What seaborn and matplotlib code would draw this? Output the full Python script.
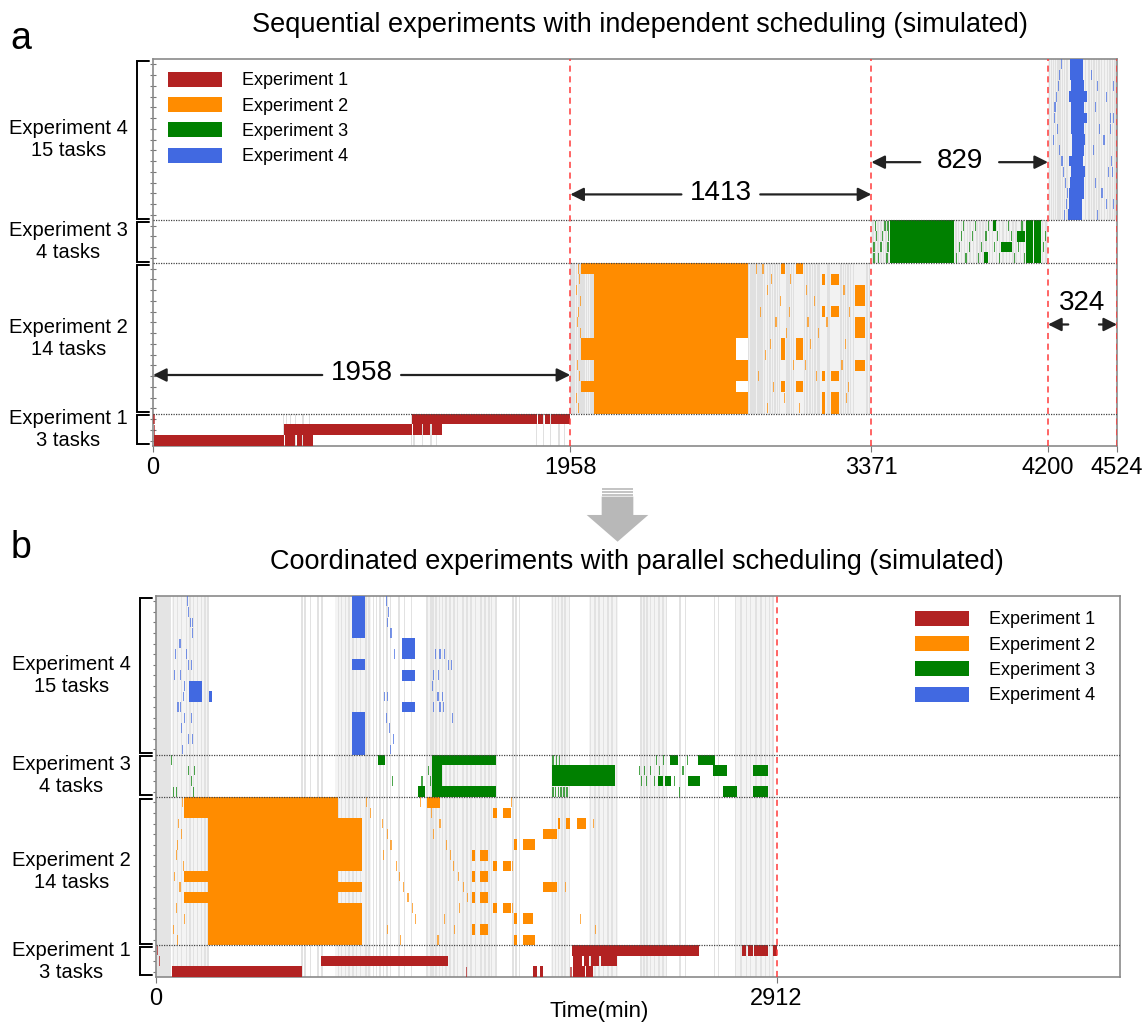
import numpy as np
import matplotlib
matplotlib.use("Agg")
import matplotlib.pyplot as plt
import matplotlib.transforms as mtransforms
from matplotlib.patches import Patch, Polygon, Rectangle
import seaborn as sns

# =========================
# DATA
# =========================

EXPERIMENTS = ["Experiment 1", "Experiment 2", "Experiment 3", "Experiment 4"]
TASK_COUNTS = [3, 14, 4, 15]
COLORS = ["#b22222", "#ff8c00", "#008000", "#4169e1"]

TITLE_A = "Sequential experiments with independent scheduling (simulated)"
TITLE_B = "Coordinated experiments with parallel scheduling (simulated)"
X_MAX = 4524
TICKS_A = [0, 1958, 3371, 4200, 4524]
TICKS_B = [0, 2912]
REDLINES_A = [1958, 3371, 4200, 4524]
REDLINES_B = [2912]

# gaps annotated with arrows in panel a: (start, end, row, label)
GAPS_A = [(0, 1958, 6.1, "1958"), (1958, 3371, 22.9, "1413"),
          (3371, 4200, 25.9, "829")]
GAP_SHORT_A = (4200, 4524, 10.8, "324")

# ---- panel a: blocks (row_lo, row_hi, start, end), thin marks (row, start, end)
a_exp1 = [(0, 0, 5, 615), (0, 0, 621, 666), (0, 0, 674, 700), (0, 0, 706, 751),
          (1, 1, 615, 1215), (1, 1, 1222, 1260), (1, 1, 1268, 1300), (1, 1, 1310, 1356),
          (2, 2, 1215, 1800), (2, 2, 1806, 1830), (2, 2, 1838, 1862), (2, 2, 1868, 1958)]
a_exp1_thin = [(2, 2, 8), (1, 4, 9)]

a_exp2 = [(3, 16, 2071, 2735),
          (3, 4, 2735, 2790), (6, 7, 2735, 2790), (10, 16, 2735, 2790),
          (16, 16, 2010, 2071), (8, 9, 2010, 2071), (5, 5, 2010, 2071),
          (16, 16, 2946, 2967), (16, 16, 3016, 3050),
          (15, 15, 3137, 3155), (15, 15, 3180, 3220),
          (13, 14, 3293, 3342),
          (12, 12, 3137, 3155), (12, 12, 3180, 3220),
          (10, 11, 3293, 3342),
          (8, 9, 2946, 2967), (8, 9, 3016, 3050),
          (7, 7, 3293, 3342),
          (6, 6, 3137, 3155), (6, 6, 3180, 3220),
          (5, 5, 2946, 2967), (5, 5, 3016, 3050),
          (3, 4, 3137, 3155), (3, 4, 3180, 3220)]
a_exp2_thin = [(16, 1992, 1998), (15, 2000, 2004), (14, 1985, 1990), (13, 2003, 2008),
               (12, 1995, 1999), (11, 1988, 1993), (10, 2005, 2010), (7, 1990, 1996),
               (6, 2000, 2005), (4, 1983, 1988), (3, 1996, 2001),
               (16, 2830, 2836), (16, 2860, 2866), (15, 2900, 2905), (15, 2990, 2996),
               (14, 2880, 2886), (14, 3062, 3068), (13, 2940, 2946), (13, 3100, 3106),
               (12, 2850, 2855), (12, 2985, 2991), (11, 2920, 2926), (11, 3070, 3076),
               (10, 2970, 2976), (10, 3120, 3125), (9, 2895, 2900), (9, 3085, 3090),
               (8, 2870, 2876), (7, 3005, 3010), (7, 3060, 3066), (6, 2840, 2846),
               (6, 3110, 3115), (5, 2910, 2916), (4, 2960, 2966), (4, 3250, 3256),
               (3, 2880, 2886), (3, 3030, 3036), (12, 3265, 3270), (14, 3240, 3245),
               (9, 3245, 3250), (7, 3230, 3236), (5, 3260, 3266), (11, 3160, 3166)]

a_exp3 = [(17, 20, 3458, 3761), (17, 20, 4099, 4130), (17, 20, 4136, 4169),
          (18, 18, 3978, 4030), (19, 19, 4056, 4094), (17, 17, 3900, 3920),
          (20, 20, 3940, 3955)]
a_exp3_thin = [(17, 3380, 3388), (18, 3380, 3386), (19, 3392, 3398), (20, 3388, 3394),
               (17, 3400, 3406), (18, 3412, 3420), (19, 3420, 3426), (20, 3430, 3438),
               (17, 3440, 3448), (18, 3446, 3454), (19, 3450, 3456), (20, 3445, 3452),
               (17, 3770, 3775), (18, 3780, 3785), (19, 3790, 3796), (20, 3800, 3806),
               (17, 3812, 3818), (18, 3830, 3836), (19, 3845, 3850), (20, 3858, 3864),
               (17, 3870, 3876), (18, 3885, 3890), (19, 3905, 3912), (20, 3920, 3925),
               (18, 3945, 3950), (19, 3960, 3966), (17, 3970, 3975), (20, 4010, 4016),
               (17, 4040, 4046), (19, 4025, 4030), (18, 4060, 4066), (20, 4075, 4082),
               (17, 4085, 4090), (18, 4175, 4180), (19, 4185, 4190)]

a_exp4 = [(35, 35, 4305, 4365), (34, 34, 4305, 4365), (33, 33, 4308, 4368),
          (32, 32, 4300, 4385), (31, 31, 4308, 4370), (30, 30, 4310, 4385),
          (29, 29, 4310, 4368), (28, 28, 4312, 4372), (27, 27, 4312, 4370),
          (26, 26, 4300, 4362), (25, 25, 4310, 4375), (24, 24, 4305, 4370),
          (23, 23, 4300, 4368), (22, 22, 4300, 4360), (21, 21, 4295, 4360)]
a_exp4_thin = [(35, 4260, 4265), (34, 4250, 4255), (33, 4245, 4250), (32, 4238, 4243),
               (31, 4230, 4236), (30, 4226, 4231), (29, 4240, 4245), (28, 4222, 4227),
               (27, 4250, 4256), (26, 4262, 4268), (25, 4270, 4275), (24, 4280, 4286),
               (23, 4290, 4295), (22, 4285, 4290), (21, 4275, 4280),
               (34, 4400, 4406), (33, 4430, 4436), (32, 4470, 4476), (31, 4420, 4426),
               (30, 4490, 4496), (30, 4505, 4511), (29, 4440, 4446), (28, 4460, 4466),
               (27, 4410, 4416), (26, 4495, 4501), (25, 4480, 4486), (25, 4500, 4506),
               (24, 4420, 4426), (23, 4450, 4456), (22, 4470, 4476), (22, 4505, 4510),
               (21, 4430, 4436), (33, 4505, 4512), (29, 4490, 4496)]

# grey activity stripes in panel a, per experiment band
a_spans = [(1, 1958, 2071), (1, 2790, 3360), (2, 3371, 4200), (3, 4200, 4524)]
a_stripes = {
    0: [612, 626, 645, 668, 703, 735, 1212, 1225, 1265, 1305, 1330, 1800, 1833,
        1866, 1905, 1930],
    1: [1962, 1970, 1978, 1987, 1996, 2004, 2013, 2022, 2033, 2044, 2055, 2064,
        2795, 2805, 2815, 2826, 2838, 2848, 2858, 2870, 2884, 2895, 2906, 2918,
        2930, 2940, 2975, 2985, 2996, 3006, 3058, 3070, 3082, 3094, 3106, 3118,
        3126, 3164, 3172, 3228, 3240, 3250, 3262, 3274, 3286, 3350, 3362],
    2: [3378, 3390, 3402, 3416, 3428, 3440, 3452, 3768, 3780, 3795, 3808, 3822,
        3835, 3850, 3866, 3880, 3896, 3910, 3925, 3940, 3958, 3972, 3988, 4005,
        4020, 4036, 4050, 4070, 4085, 4175, 4190],
    3: [4208, 4216, 4225, 4234, 4246, 4256, 4268, 4278, 4290, 4375, 4392, 4404,
        4415, 4428, 4440, 4452, 4465, 4478, 4490, 4502, 4514],
}

# ---- panel b
b_exp1 = [(0, 0, 74, 683), (1, 1, 774, 1372), (2, 2, 1951, 2548),
          (0, 0, 1959, 2014), (0, 0, 2020, 2051), (0, 0, 1769, 1790), (0, 0, 1800, 1816),
          (1, 1, 1957, 2000), (1, 1, 2010, 2030), (1, 1, 2040, 2080), (1, 1, 2090, 2163),
          (2, 2, 2748, 2770), (2, 2, 2778, 2800), (2, 2, 2808, 2873), (2, 2, 2897, 2912)]
b_exp1_thin = [(2, 5, 10), (1, 12, 17), (0, 1455, 1461), (0, 1943, 1950)]

b_exp2 = [(3, 16, 245, 855),
          (3, 6, 855, 965), (8, 8, 855, 965), (10, 14, 855, 965),
          (15, 16, 133, 245), (9, 9, 133, 245), (7, 7, 133, 245),
          (16, 16, 1270, 1333),
          (15, 15, 1583, 1598), (15, 15, 1627, 1664),
          (14, 14, 1886, 1896), (14, 14, 1924, 1943), (14, 14, 1976, 2018),
          (13, 13, 1817, 1882),
          (12, 12, 1680, 1694), (12, 12, 1722, 1779),
          (11, 11, 1481, 1497), (11, 11, 1520, 1558),
          (10, 10, 1583, 1598), (10, 10, 1627, 1664),
          (9, 9, 1481, 1497), (9, 9, 1520, 1558),
          (8, 8, 1817, 1882),
          (7, 7, 1481, 1497), (7, 7, 1520, 1558),
          (6, 6, 1583, 1598), (6, 6, 1627, 1664),
          (5, 5, 1680, 1694), (5, 5, 1722, 1770),
          (4, 4, 1481, 1497), (4, 4, 1520, 1558),
          (3, 3, 1680, 1694), (3, 3, 1722, 1779)]
b_exp2_thin = [(16, 120, 126), (14, 105, 110), (13, 115, 120), (12, 100, 105),
               (11, 92, 97), (10, 125, 130), (9, 85, 90), (8, 110, 115), (6, 95, 100),
               (5, 130, 135), (4, 80, 85), (3, 100, 105),
               (16, 985, 990), (15, 1005, 1010), (14, 1060, 1066), (13, 1082, 1088),
               (12, 1100, 1106), (11, 1065, 1070), (10, 1125, 1130), (9, 1138, 1143),
               (8, 1160, 1165), (7, 1180, 1185), (6, 1200, 1205), (5, 1215, 1220),
               (4, 1085, 1090), (3, 1145, 1150),
               (16, 1240, 1245), (15, 1290, 1296), (14, 1330, 1336), (13, 1300, 1306),
               (12, 1360, 1366), (11, 1380, 1386), (10, 1395, 1400), (9, 1415, 1420),
               (8, 1440, 1446), (7, 1460, 1466), (6, 1420, 1426), (5, 1350, 1356),
               (4, 1400, 1405), (3, 1320, 1326),
               (14, 2050, 2056), (8, 1920, 1926), (5, 1990, 1996), (4, 2060, 2066),
               (16, 1665, 1672), (10, 1670, 1676), (6, 1670, 1676)]

b_exp3 = [(20, 20, 1042, 1075), (17, 17, 1229, 1262), (20, 20, 1297, 1596),
          (17, 17, 1297, 1596), (18, 19, 1297, 1342), (18, 19, 1857, 2154),
          (20, 20, 2412, 2450), (18, 18, 2356, 2379), (18, 18, 2389, 2415),
          (18, 18, 2497, 2553), (20, 20, 2544, 2623), (19, 19, 2614, 2680),
          (17, 17, 2661, 2726), (19, 19, 2802, 2873), (17, 17, 2802, 2873)]
b_exp3_thin = [(20, 69, 75), (17, 78, 84), (17, 95, 100), (19, 150, 155), (18, 165, 170),
               (19, 178, 183), (17, 175, 180), (18, 1106, 1112), (18, 1245, 1252),
               (19, 1275, 1280), (18, 1285, 1290),
               (20, 1860, 1866), (20, 1875, 1880), (20, 1890, 1896), (17, 1860, 1866),
               (17, 1872, 1878), (17, 1885, 1890), (17, 1898, 1903), (17, 1912, 1918),
               (17, 1925, 1932),
               (19, 2265, 2270), (18, 2275, 2280), (19, 2290, 2296), (18, 2300, 2306),
               (19, 2318, 2324), (18, 2335, 2340), (20, 2345, 2350), (19, 2360, 2366),
               (20, 2380, 2386), (18, 2430, 2436), (17, 2455, 2460), (19, 2470, 2476),
               (20, 2490, 2496)]

b_exp4 = [(32, 35, 921, 981), (29, 29, 921, 981), (21, 24, 921, 981),
          (30, 31, 1156, 1215), (28, 28, 1156, 1215), (25, 25, 1156, 1215),
          (26, 27, 155, 214), (26, 26, 250, 262)]
b_exp4_thin = [(35, 145, 150), (34, 150, 155), (33, 158, 163), (32, 170, 175),
               (31, 110, 116), (30, 140, 146), (29, 150, 156), (29, 163, 169),
               (28, 85, 90), (28, 112, 118), (27, 130, 136), (26, 125, 131),
               (25, 100, 106), (24, 130, 136), (24, 165, 170), (23, 115, 121),
               (22, 150, 156), (22, 168, 172), (21, 120, 126), (30, 88, 93),
               (33, 170, 175), (25, 112, 117),
               (35, 1080, 1086), (34, 1090, 1095), (33, 1085, 1090), (32, 1100, 1106),
               (24, 1080, 1086), (23, 1095, 1100), (22, 1110, 1115), (21, 1100, 1105),
               (26, 1070, 1075), (26, 1085, 1090), (30, 1115, 1120),
               (30, 1310, 1316), (30, 1330, 1336), (30, 1350, 1356), (29, 1370, 1376),
               (29, 1385, 1390), (28, 1300, 1305), (28, 1325, 1330), (26, 1320, 1326),
               (26, 1340, 1346), (25, 1300, 1306), (25, 1330, 1336), (25, 1345, 1350),
               (24, 1390, 1396), (27, 1295, 1300)]

# grey activity stripes in panel b (all experiments running together)
b_dark_span = (0, 72)
b_spans = [(75, 250), (840, 1010), (1265, 1600), (1855, 1945), (2030, 2170),
           (2270, 2400), (2715, 2900)]
b_stripes = [81, 100, 120, 144, 159, 175, 194, 214, 230, 245, 684, 700, 725, 760,
             778, 856, 870, 890, 905, 925, 940, 960, 985, 1000, 1020, 1035, 1050,
             1068, 1085, 1100, 1140, 1165, 1200, 1272, 1290, 1300, 1315, 1330, 1345,
             1360, 1380, 1398, 1415, 1440, 1460, 1478, 1500, 1525, 1545, 1562, 1575,
             1595, 1675, 1690, 1705, 1860, 1875, 1890, 1905, 1920, 1940, 2040, 2060,
             2080, 2100, 2120, 2140, 2160, 2275, 2290, 2305, 2320, 2340, 2360, 2380,
             2395, 2460, 2485, 2620, 2640, 2720, 2745, 2770, 2790, 2815, 2840, 2860,
             2880, 2895]

# =========================
# STYLE
# =========================

sns.set_theme(style="white")
plt.rcParams["font.family"] = ["Liberation Sans", "DejaVu Sans"]
plt.rcParams["text.color"] = "black"
plt.rcParams["axes.labelcolor"] = "black"
plt.rcParams["xtick.labelcolor"] = "black"

N_ROWS = sum(TASK_COUNTS)
group_lo = np.cumsum([0] + TASK_COUNTS[:-1])
group_hi = group_lo + np.array(TASK_COUNTS) - 1

fig = plt.figure(figsize=(11.43, 10.24), dpi=100)
ax_a = fig.add_axes([0.1339, 0.5645, 0.8434, 0.3779])
ax_b = fig.add_axes([0.1365, 0.0459, 0.8434, 0.3721])


def draw_blocks(ax, blocks, color):
    for lo, hi, s, e in blocks:
        ax.barh((lo + hi) / 2, e - s, left=s, height=hi - lo + 1, color=color,
                linewidth=0, zorder=3)


def draw_thin(ax, marks, color):
    for r, s, e in marks:
        ax.barh(r, e - s, left=s, height=0.92, color=color, alpha=0.7,
                linewidth=0, zorder=3)


def band(exp):
    return group_lo[exp] - 0.5, group_hi[exp] + 0.5


def setup_axes(ax, ticks, redlines):
    ax.set_xlim(0, X_MAX)
    ax.set_ylim(-0.5, N_ROWS - 0.5)
    ax.set_xticks(ticks)
    ax.set_xticklabels([str(t) for t in ticks], fontsize=17)
    ax.set_yticks(np.arange(N_ROWS))
    ax.set_yticklabels([])
    ax.tick_params(axis="y", length=4, width=0.8, color="#777777", direction="inout",
                   left=True)
    ax.tick_params(axis="x", length=4, width=0.8, color="#777777", bottom=True, pad=4)
    for sp in ax.spines.values():
        sp.set_color("#8a8a8a")
        sp.set_linewidth(1.2)
    # group separators
    for h in group_hi[:-1]:
        ax.axhline(h + 0.5, color="#444444", lw=0.9, ls=(0, (1, 1)), zorder=4)
    for x in redlines:
        ax.axvline(x, color="#ff3b3b", lw=1.1, ls=(0, (4, 3)), zorder=5)
    # braces and group labels
    trans = mtransforms.blended_transform_factory(ax.transAxes, ax.transData)
    for i, name in enumerate(EXPERIMENTS):
        lo, hi = band(i)
        lo, hi = lo + 0.15, hi - 0.15
        ax.plot([-0.004, -0.0165, -0.0165, -0.004], [hi, hi, lo, lo], color="black",
                lw=1.4, transform=trans, clip_on=False, solid_joinstyle="miter")
        ax.text(-0.088, (lo + hi) / 2, f"{name}\n{TASK_COUNTS[i]} tasks", transform=trans,
                ha="center", va="center", fontsize=14.5, linespacing=1.2)


legend_handles = [Patch(facecolor=c, edgecolor="none", label=n)
                  for c, n in zip(COLORS, EXPERIMENTS)]

# =========================
# PANEL A
# =========================

for exp, s, e in a_spans:
    lo, hi = band(exp)
    ax_a.bar((s + e) / 2, hi - lo, bottom=lo, width=e - s, color="#f2f2f2",
             linewidth=0, zorder=1)
for exp, xs in a_stripes.items():
    lo, hi = band(exp)
    ax_a.bar(xs, hi - lo, bottom=lo, width=7, color="#e0e0e0", linewidth=0,
             zorder=2)

for blocks, thin, col in [(a_exp1, a_exp1_thin, COLORS[0]), (a_exp2, a_exp2_thin, COLORS[1]),
                          (a_exp3, a_exp3_thin, COLORS[2]), (a_exp4, a_exp4_thin, COLORS[3])]:
    draw_blocks(ax_a, blocks, col)
    draw_thin(ax_a, thin, col)

setup_axes(ax_a, TICKS_A, REDLINES_A)

arrow_kw = dict(arrowstyle="-|>", color="#222222", lw=1.6, mutation_scale=20,
                shrinkA=0, shrinkB=0)
for s, e, y, lab in GAPS_A:
    mid = (s + e) / 2
    half = 185
    ax_a.annotate("", xy=(s, y), xytext=(mid - half, y), arrowprops=arrow_kw, zorder=6)
    ax_a.annotate("", xy=(e, y), xytext=(mid + half, y), arrowprops=arrow_kw, zorder=6)
    ax_a.text(mid, y + 0.15, lab, ha="center", va="center", fontsize=20, zorder=6)
s, e, y, lab = GAP_SHORT_A
ax_a.annotate("", xy=(s, y), xytext=(s + 95, y), arrowprops=arrow_kw, zorder=6)
ax_a.annotate("", xy=(e, y), xytext=(e - 85, y), arrowprops=arrow_kw, zorder=6)
ax_a.text((s + e) / 2, y + 2.0, lab, ha="center", va="center", fontsize=20, zorder=6)

ax_a.legend(handles=legend_handles, loc="upper left", bbox_to_anchor=(0.004, 0.995),
            frameon=False, fontsize=13, handlelength=3.0, handleheight=0.9,
            labelspacing=0.42, handletextpad=1.1, borderaxespad=0.2)

# =========================
# PANEL B
# =========================

ax_b.bar((b_dark_span[0] + b_dark_span[1]) / 2, N_ROWS, bottom=-0.5,
         width=b_dark_span[1] - b_dark_span[0], color="#e4e4e4", linewidth=0, zorder=1)
for s, e in b_spans:
    ax_b.bar((s + e) / 2, N_ROWS, bottom=-0.5, width=e - s, color="#f4f4f4",
             linewidth=0, zorder=1)
ax_b.bar(b_stripes, N_ROWS, bottom=-0.5, width=7, color="#e2e2e2", linewidth=0, zorder=2)

for blocks, thin, col in [(b_exp1, b_exp1_thin, COLORS[0]), (b_exp2, b_exp2_thin, COLORS[1]),
                          (b_exp3, b_exp3_thin, COLORS[2]), (b_exp4, b_exp4_thin, COLORS[3])]:
    draw_blocks(ax_b, blocks, col)
    draw_thin(ax_b, thin, col)

setup_axes(ax_b, TICKS_B, REDLINES_B)
ax_b.set_xlabel("Time(min)", fontsize=16)
ax_b.xaxis.set_label_coords(0.46, -0.062)

ax_b.legend(handles=legend_handles, loc="upper right", bbox_to_anchor=(0.985, 0.99),
            frameon=False, fontsize=13, handlelength=3.0, handleheight=0.9,
            labelspacing=0.42, handletextpad=1.1, borderaxespad=0.2)

# =========================
# TITLES, PANEL LETTERS, ARROW
# =========================

fig.text(0.56, 0.9756, TITLE_A, ha="center", va="center", fontsize=19.5)
fig.text(0.557, 0.451, TITLE_B, ha="center", va="center", fontsize=19.5)
fig.text(0.009, 0.962, "a", ha="left", va="center", fontsize=27)
fig.text(0.009, 0.465, "b", ha="left", va="center", fontsize=27)

arrow_pts = [(0.5264, 0.5150), (0.5541, 0.5150), (0.5541, 0.4971), (0.5672, 0.4971),
             (0.5403, 0.4710), (0.5133, 0.4971), (0.5264, 0.4971)]
fig.patches.append(Polygon(arrow_pts, closed=True, transform=fig.transFigure,
                           facecolor="#b8b8b8", edgecolor="none"))
for y0 in [0.5215, 0.5186, 0.5157]:
    fig.patches.append(Rectangle((0.5264, y0), 0.0277, 0.0017, transform=fig.transFigure,
                                 facecolor="#c4c4c4", edgecolor="none"))

plt.savefig("out.png", dpi=100)
